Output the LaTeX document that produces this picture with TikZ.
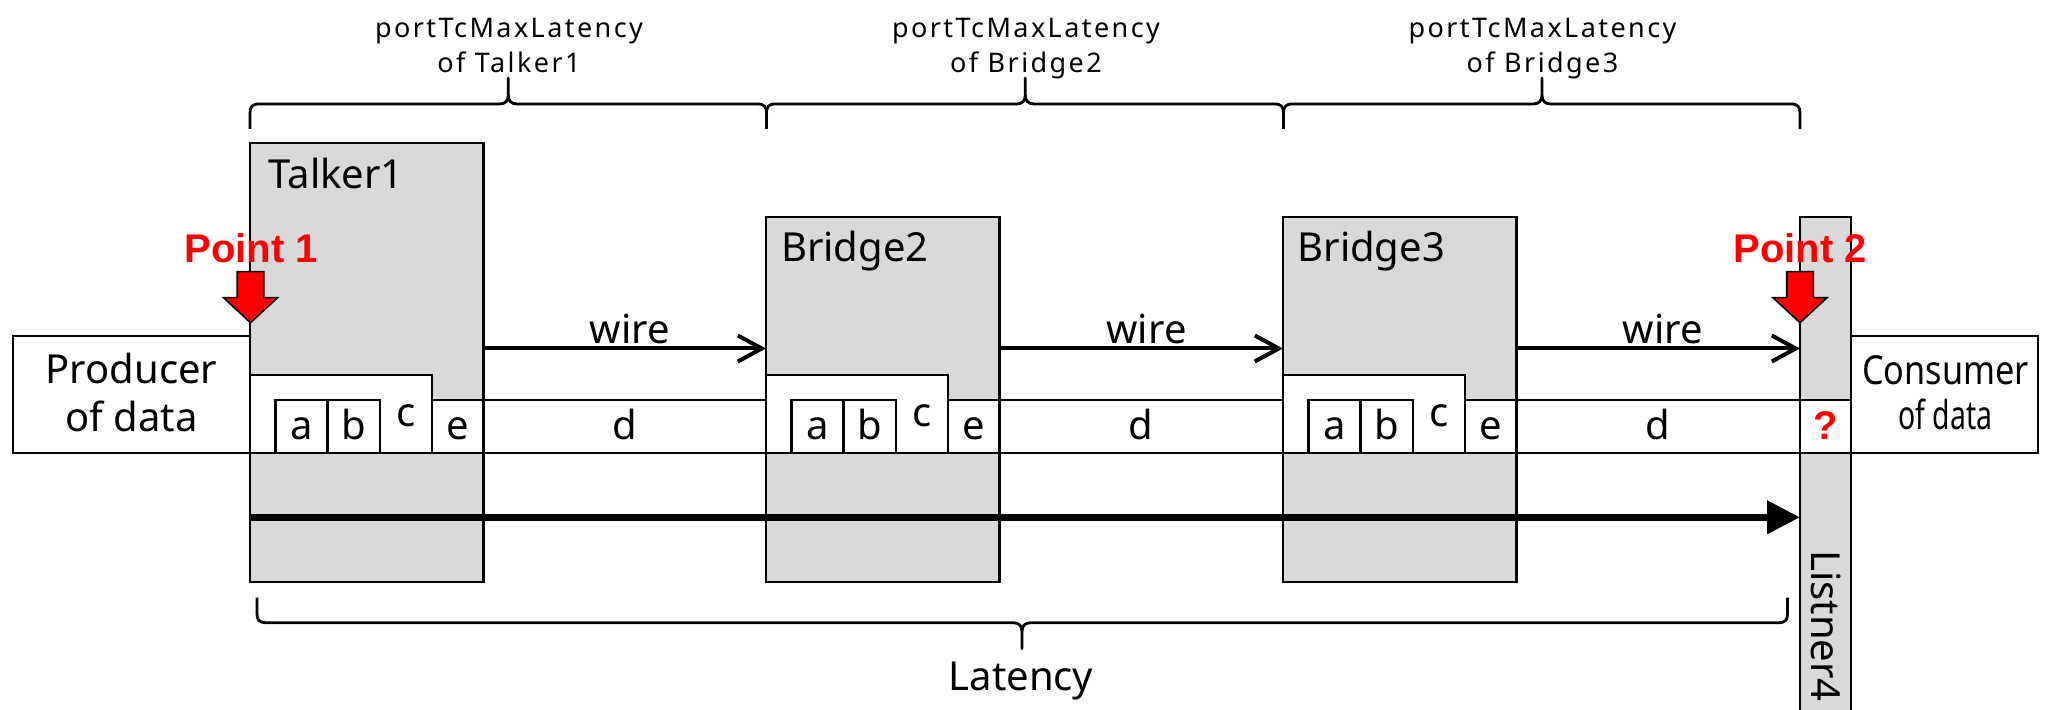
\documentclass[tikz,border=0pt]{standalone}
\usepackage{fontspec}
\usepackage{graphicx}
\setmainfont{Noto Sans}
\newfontfamily\hdrfont[LetterSpace=9]{Noto Sans}
\newfontfamily\ptfont{Liberation Sans}
\usetikzlibrary{arrows.meta,fit}
\definecolor{boxgray}{HTML}{D9D9D9}
\definecolor{ptred}{HTML}{FF0000}

% curly brace: #1 x1, #2 x tip, #3 x2, #4 y of line, #5 direction of ends (1 down, -1 up)
\newcommand{\mybrace}[5]{%
  \draw[brc] (#1,{#4+25*(#5)}) -- (#1,{#4+9*(#5)})
    .. controls (#1,{#4+3*(#5)}) and ({#1+2},#4) .. ({#1+9},#4)
    -- ({#2-9},#4) .. controls ({#2-3},#4) and (#2,{#4-3*(#5)}) .. (#2,{#4-9*(#5)})
    -- (#2,{#4-26*(#5)}) -- (#2,{#4-9*(#5)})
    .. controls (#2,{#4-3*(#5)}) and ({#2+3},#4) .. ({#2+9},#4)
    -- ({#3-9},#4) .. controls ({#3-2},#4) and (#3,{#4+3*(#5)}) .. (#3,{#4+9*(#5)})
    -- (#3,{#4+25*(#5)});}

% red block arrow pointing down, tip at (#1, 322.7)
\newcommand{\redarrow}[1]{%
  \filldraw[fill=ptred, draw=black, line width=0.8pt, line join=miter]
    ({#1-13.3},271.7) -- ({#1+13.3},271.7) -- ({#1+13.3},297.7) -- ({#1+27},297.7)
    -- (#1,322.7) -- ({#1-27},297.7) -- ({#1-13.3},297.7) -- cycle;}

\begin{document}
\begin{tikzpicture}[x=0.5pt,y=-0.5pt,
  every node/.style={inner sep=0pt, outer sep=0pt},
  devbox/.style={draw, line width=1.1pt, fill=boxgray, inner sep=0pt},
  whitebox/.style={draw, line width=1.1pt, fill=white, inner sep=0pt},
  lbl/.style={font=\fontsize{20}{24}\selectfont},
  hdr/.style={font=\hdrfont\fontsize{13.5}{17.4}\selectfont, align=center, anchor=south, text depth=0pt},
  ptlbl/.style={font=\ptfont\bfseries\fontsize{20}{24}\selectfont, text=ptred},
  wirearrow/.style={line width=2pt, -{Straight Barb[length=12pt,width=13pt]}},
  latarrow/.style={line width=3.5pt, -{Triangle[length=16.5pt,width=16pt]}},
  brc/.style={line width=1.4pt, line join=round}]

\useasboundingbox (0,0) rectangle (2051,710);
\clip (0,0) rectangle (2051,710);

% devices
\node[devbox, fit={(250,143.3) (483.5,581.7)}] (talker) {};
\node[devbox, fit={(766,216.7) (999.5,581.7)}] (bridge2) {};
\node[devbox, fit={(1283,216.7) (1516.5,581.7)}] (bridge3) {};
\node[devbox, fit={(1800,216.7) (1851,740)}] (listener) {};

% producer / consumer
\node[whitebox, fit={(12.8,336) (250,452.7)}] (producer) {};
\node[whitebox, fit={(1851,336) (2037.7,452.7)}] (consumer) {};

% buffers inside devices and d segments
\foreach \n/\x in {t/250, b2/766, b3/1283} {
  \node[whitebox, fit={(\x,375) ({\x+182},452.7)}] (buf\n) {};
  \node[whitebox, fit={({\x+25.5},400) ({\x+77.5},452.7)}] (a\n) {};
  \node[whitebox, fit={({\x+77.5},400) ({\x+130},452.7)}] (b\n) {};
  \node[whitebox, fit={({\x+182},400) ({\x+233.5},452.7)}] (e\n) {};
  \node[lbl, anchor=base] (la\n) at ({\x+51.5},439.3) {a};
  \node[lbl, anchor=base] (lb\n) at ({\x+103.75},439.3) {b};
  \node[lbl, anchor=base] (lc\n) at ({\x+156},427) {c};
  \node[lbl, anchor=base] (le\n) at ({\x+207.75},439.3) {e};
}
\node[whitebox, fit={(483.5,400) (766,452.7)}] (d1) {};
\node[whitebox, fit={(999.5,400) (1283,452.7)}] (d2) {};
\node[whitebox, fit={(1516.5,400) (1800,452.7)}] (d3) {};
\node[whitebox, fit={(1800,400) (1851,452.7)}] (qbox) {};
\node[lbl, anchor=base] (ld1) at (625,439.3) {d};
\node[lbl, anchor=base] (ld2) at (1141.25,439.3) {d};
\node[lbl, anchor=base] (ld3) at (1658.25,439.3) {d};
\node[ptlbl, anchor=base] (qmark) at (1825.5,440) {?};

% wires
\coordinate (wireline) at (0,348.5);
\draw[wirearrow] (talker.east |- wireline) -- (bridge2.west |- wireline);
\draw[wirearrow] (bridge2.east |- wireline) -- (bridge3.west |- wireline);
\draw[wirearrow] (bridge3.east |- wireline) -- (listener.west |- wireline);
\node[lbl, anchor=base] (w1) at (630,343.3) {wire};
\node[lbl, anchor=base] (w2) at (1146.5,343.3) {wire};
\node[lbl, anchor=base] (w3) at (1663,343.3) {wire};

% latency arrow
\coordinate (latline) at (0,517.3);
\draw[latarrow] (talker.west |- latline) -- (listener.west |- latline);

% device labels
\node[lbl, anchor=base west] (ltalker) at (268.5,188.3) {Talker1};
\node[lbl, anchor=base west] (lbridge2) at (781,261.7) {Bridge2};
\node[lbl, anchor=base west] (lbridge3) at (1297.5,261.7) {Bridge3};
\node[lbl, rotate=-90] (llistener) at (1826,626) {Listner4};

% producer / consumer texts
\node[lbl, align=center, anchor=south, text depth=0pt, font=\fontsize{20}{24.2}\selectfont] (lproducer) at (131.5,431.7) {Producer\\of data};
\node[lbl, align=center, anchor=south, text depth=0pt, font=\fontsize{20}{22.5}\selectfont] (lconsumer) at (1945.5,430) {\scalebox{0.856}[1]{Consumer}\\\scalebox{0.71}[1]{of data}};

% measurement points
\redarrow{250.5}
\redarrow{1800}
\node[ptlbl, anchor=base] (p1) at (251.2,262.3) {Point 1};
\node[ptlbl, anchor=base] (p2) at (1800,262.3) {Point 2};

% braces
\mybrace{250}{508.3}{766.5}{104}{1}
\mybrace{766.5}{1025.3}{1283.5}{104}{1}
\mybrace{1283.5}{1542}{1800}{104}{1}
\mybrace{257}{1022}{1787.5}{622.7}{-1}

% brace labels
\node[hdr] (h1) at (509,72.7) {portTcMaxLatency\\of Talker1};
\node[hdr] (h2) at (1026,72.7) {portTcMaxLatency\\of Bridge2};
\node[hdr] (h3) at (1542.5,72.7) {portTcMaxLatency\\of Bridge3};
\node[lbl, anchor=base] (llat) at (1021,690.7) {Latency};
\end{tikzpicture}
\end{document}
